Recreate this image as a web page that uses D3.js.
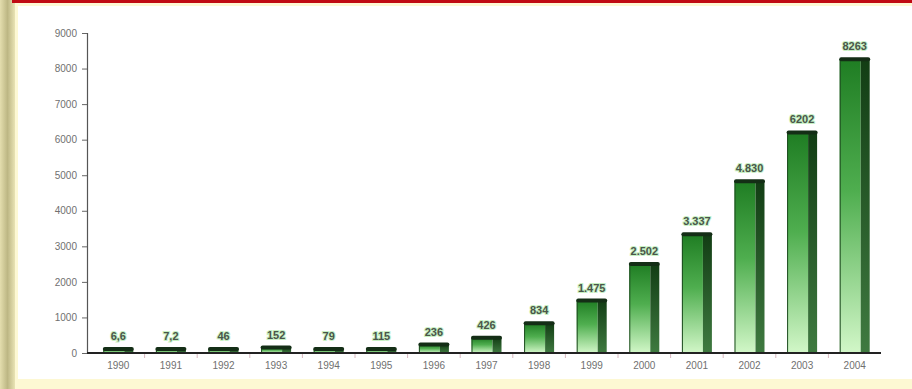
<!DOCTYPE html>
<html>
<head>
<meta charset="utf-8">
<script src="https://cdn.jsdelivr.net/npm/d3@7"></script>
<style>
  body { margin: 0; background: #fdf8d3; }
  svg { display: block; }
</style>
</head>
<body>
<div class="chart"></div>
<script>
// data
const years = ["1990","1991","1992","1993","1994","1995","1996","1997","1998","1999","2000","2001","2002","2003","2004"];
const values = [6.6, 7.2, 46, 152, 79, 115, 236, 426, 834, 1475, 2502, 3337, 4830, 6202, 8263];
const valueLabels = ["6,6","7,2","46","152","79","115","236","426","834","1.475","2.502","3.337","4.830","6202","8263"];
const yTicks = [0, 1000, 2000, 3000, 4000, 5000, 6000, 7000, 8000, 9000];

const W = 912, H = 389;
const svg = d3.select(".chart").append("svg")
    .attr("width", W)
    .attr("height", H);

const defs = svg.append("defs");
const lg = defs.append("linearGradient").attr("id", "strip").attr("x1", 0).attr("x2", 1);
lg.append("stop").attr("offset", 0).attr("stop-color", "#e4deae");
lg.append("stop").attr("offset", 0.5).attr("stop-color", "#bdb784");
lg.append("stop").attr("offset", 1).attr("stop-color", "#e9e3b4");

const front = defs.append("linearGradient").attr("id", "front").attr("x1", 0).attr("x2", 0).attr("y1", 0).attr("y2", 1);
front.append("stop").attr("offset", 0).attr("stop-color", "#1f7d23");
front.append("stop").attr("offset", 0.45).attr("stop-color", "#4fae4f");
front.append("stop").attr("offset", 1).attr("stop-color", "#d2f7c8");

const side = defs.append("linearGradient").attr("id", "side").attr("x1", 0).attr("x2", 0).attr("y1", 0).attr("y2", 1);
side.append("stop").attr("offset", 0).attr("stop-color", "#123d14");
side.append("stop").attr("offset", 1).attr("stop-color", "#3f7a40");

// page frame
svg.append("rect").attr("width", W).attr("height", H).attr("fill", "#fdf8d3");
svg.append("rect").attr("x", 0).attr("y", 0).attr("width", 15).attr("height", H).attr("fill", "url(#strip)");
svg.append("rect").attr("x", 12).attr("y", 0).attr("width", W - 12).attr("height", 3).attr("fill", "#c00a12");
svg.append("rect").attr("x", 18).attr("y", 6).attr("width", W - 18).attr("height", 373).attr("fill", "#ffffff");

// scales
const x = d3.scaleBand()
    .domain(years)
    .range([92, 881])
    .paddingInner(0);

const y = d3.scaleLinear()
    .domain([0, 9000])
    .range([353, 33]);

// y axis
const yAxis = d3.axisLeft(y)
    .tickValues(yTicks)
    .tickSize(5)
    .tickPadding(5)
    .tickFormat(d3.format("d"));

const yAxisDisplay = svg.append("g")
    .attr("class", "axis y-axis")
    .attr("transform", "translate(87,0)")
    .call(yAxis);
yAxisDisplay.select(".domain").attr("stroke", "#555").attr("stroke-width", 1.2);
yAxisDisplay.selectAll(".tick line").attr("stroke", "#666");
yAxisDisplay.selectAll("text")
    .attr("fill", "#707070")
    .attr("font-family", "Liberation Sans, Arial, sans-serif")
    .attr("font-size", 10);

// x axis
const xAxis = d3.axisBottom(x)
    .tickSize(0)
    .tickPadding(9);

const xAxisDisplay = svg.append("g")
    .attr("class", "axis x-axis")
    .attr("transform", `translate(0, ${y(0)})`)
    .call(xAxis);
xAxisDisplay.select(".domain").remove();
xAxisDisplay.selectAll("text")
    .attr("fill", "#707070")
    .attr("font-family", "Liberation Sans, Arial, sans-serif")
    .attr("font-size", 10);

// faint separators between categories
svg.append("g").selectAll("line")
    .data(years.slice(1))
    .join("line")
    .attr("x1", d => x(d))
    .attr("x2", d => x(d))
    .attr("y1", y(0) + 1)
    .attr("y2", y(0) + 5)
    .attr("stroke", "#d8b8c0");

// bars
const fw = 21, sw = 9, capH = 4;
const bars = svg.append("g").selectAll("g")
    .data(years.map((d, i) => ({year: d, value: values[i], label: valueLabels[i]})))
    .join("g")
    .attr("transform", d => `translate(${x(d.year) + (x.bandwidth() - fw - sw) / 2},0)`);

bars.append("rect")
    .attr("x", 0)
    .attr("y", d => Math.min(y(d.value), y(0) - capH))
    .attr("width", fw)
    .attr("height", d => y(0) - Math.min(y(d.value), y(0) - capH))
    .attr("fill", "url(#front)");

bars.append("rect")
    .attr("x", fw)
    .attr("y", d => Math.min(y(d.value), y(0) - capH))
    .attr("width", sw)
    .attr("height", d => y(0) - Math.min(y(d.value), y(0) - capH))
    .attr("fill", "url(#side)");

bars.append("line")
    .attr("x1", 0.5).attr("x2", 0.5)
    .attr("y1", d => Math.min(y(d.value), y(0) - capH))
    .attr("y2", y(0))
    .attr("stroke", "#1d4a1f")
    .attr("stroke-width", 1);

// top cap
bars.append("rect")
    .attr("x", -0.5)
    .attr("y", d => Math.min(y(d.value), y(0) - capH) - 2)
    .attr("width", fw + sw + 1)
    .attr("height", 4)
    .attr("rx", 2)
    .attr("fill", "#142e16");

// x axis line on top of bars
svg.append("line")
    .attr("x1", 87).attr("x2", 881)
    .attr("y1", y(0)).attr("y2", y(0))
    .attr("stroke", "#222")
    .attr("stroke-width", 2);

// value labels
bars.append("text")
    .attr("x", (fw + sw) / 2)
    .attr("y", d => Math.min(y(d.value), y(0) - capH) - 9)
    .attr("text-anchor", "middle")
    .attr("font-family", "Liberation Sans, Arial, sans-serif")
    .attr("font-size", 11)
    .attr("font-weight", "bold")
    .attr("fill", "#4a554a")
    .attr("stroke", "#c6f0c2")
    .attr("stroke-width", 2)
    .attr("paint-order", "stroke")
    .text(d => d.label);
</script>
</body>
</html>
